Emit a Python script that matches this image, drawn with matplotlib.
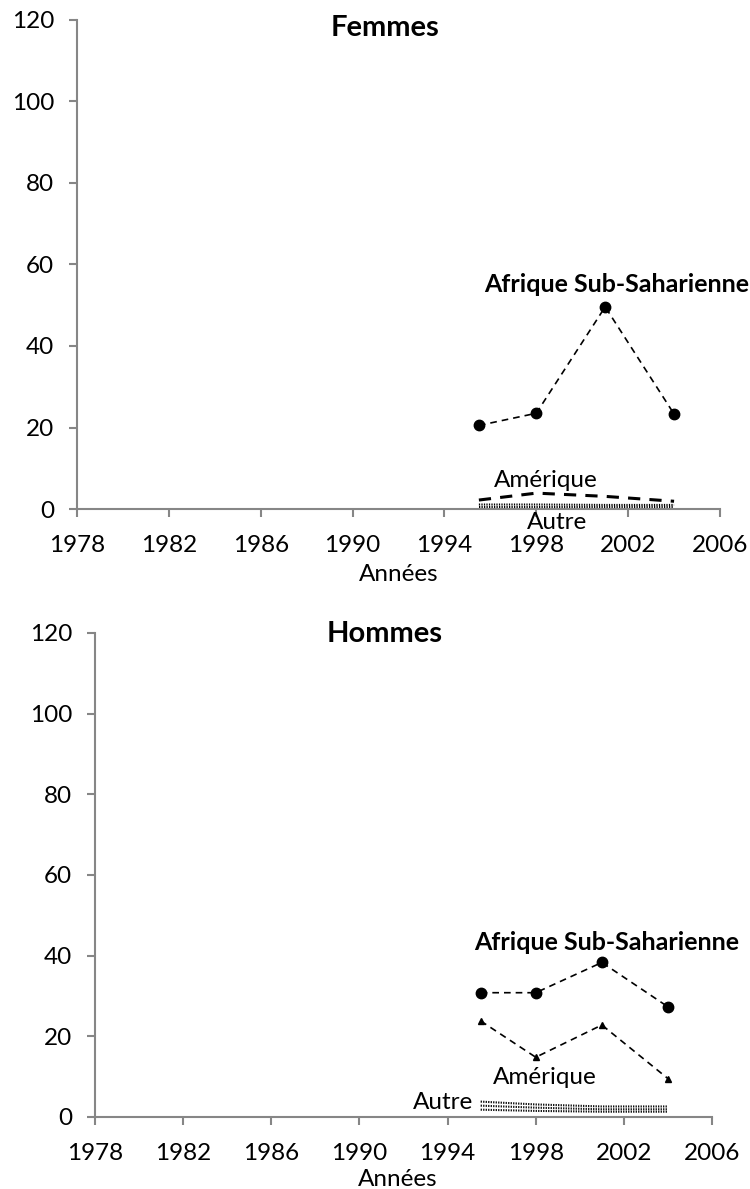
import matplotlib
matplotlib.use('Agg')
import matplotlib.pyplot as plt

plt.rcParams['font.family'] = ['Lato', 'DejaVu Sans']

# Data
years = [1995.5, 1998, 2001, 2004]

afrique_f = [20.5, 23.5, 49.6, 23.3]
amerique_f = [2.2, 3.9, 3.1, 1.9]
autre_f = [[1.1, 1.1, 1.0, 1.0], [0.6, 0.6, 0.6, 0.6]]

afrique_h = [30.8, 30.8, 38.3, 27.3]
amerique_h = [23.8, 14.8, 22.8, 9.5]
autre_h = [[3.8, 3.1, 2.6, 2.6], [2.8, 2.3, 1.9, 1.9], [1.8, 1.5, 1.3, 1.3]]

xticks = [1978, 1982, 1986, 1990, 1994, 1998, 2002, 2006]
yticks = [0, 20, 40, 60, 80, 100, 120]

axis_grey = '#868686'
fine_dots = (0, (0.6, 0.6))
dashes = (0, (4, 3))


def style_axes(ax):
    ax.set_xlim(1978, 2006)
    ax.set_ylim(0, 120)
    ax.set_xticks(xticks)
    ax.set_yticks(yticks)
    for s in ['top', 'right']:
        ax.spines[s].set_visible(False)
    for s in ['left', 'bottom']:
        ax.spines[s].set_color(axis_grey)
        ax.spines[s].set_linewidth(1.5)
    ax.tick_params(axis='both', direction='out', length=5.5, width=1.5,
                   color=axis_grey, labelsize=17.5)
    ax.tick_params(axis='x', pad=13)
    ax.tick_params(axis='y', pad=11)


fig = plt.figure(figsize=(7.5, 11.89), dpi=100)

# Femmes
ax1 = fig.add_axes([0.1027, 0.5719, 0.8573, 0.4113])
style_axes(ax1)
ax1.plot(years, afrique_f, color='black', linestyle=dashes, lw=1.2,
         marker='o', markersize=7.5, clip_on=False)
ax1.plot(years, amerique_f, color='black', linestyle=dashes, lw=2.2,
         clip_on=False)
for vals in autre_f:
    ax1.plot(years, vals, color='black', linestyle=fine_dots, lw=1.5,
             clip_on=False)
ax1.text(2001.5, 55.2, 'Afrique Sub-Saharienne', fontsize=18,
         fontweight='bold', ha='center', va='center')
ax1.text(1998.4, 7.1, 'Amérique', fontsize=17.5, ha='center', va='center')
ax1.text(1998.9, -3.2, 'Autre', fontsize=17.5, ha='center', va='center',
         clip_on=False)

# Hommes
ax2 = fig.add_axes([0.1267, 0.0606, 0.8227, 0.4071])
style_axes(ax2)
ax2.plot(years, afrique_h, color='black', linestyle=dashes, lw=1.2,
         marker='o', markersize=7.5, clip_on=False)
ax2.plot(years, amerique_h, color='black', linestyle=dashes, lw=1.2,
         marker='^', markersize=4.5, clip_on=False)
for vals in autre_h:
    ax2.plot(years, vals, color='black', linestyle=fine_dots, lw=1.5,
             clip_on=False)
ax2.text(2001.2, 43.2, 'Afrique Sub-Saharienne', fontsize=18,
         fontweight='bold', ha='center', va='center')
ax2.text(1998.4, 9.7, 'Amérique', fontsize=17.5, ha='center', va='center')
ax2.text(1993.8, 3.6, 'Autre', fontsize=17.5, ha='center', va='center')

# titles and axis labels placed in figure coordinates
fig.text(385 / 750, 1 - 28 / 1189, 'Femmes', fontsize=21, fontweight='bold',
         ha='center', va='center')
fig.text(385 / 750, 1 - 634 / 1189, 'Hommes', fontsize=21, fontweight='bold',
         ha='center', va='center')
fig.text(399 / 750, 1 - 574 / 1189, 'Années', fontsize=17.5,
         ha='center', va='center')
fig.text(398 / 750, 1 - 1180 / 1189, 'Années', fontsize=17.5,
         ha='center', va='center')

fig.savefig('out.png', dpi=100, facecolor='white')
